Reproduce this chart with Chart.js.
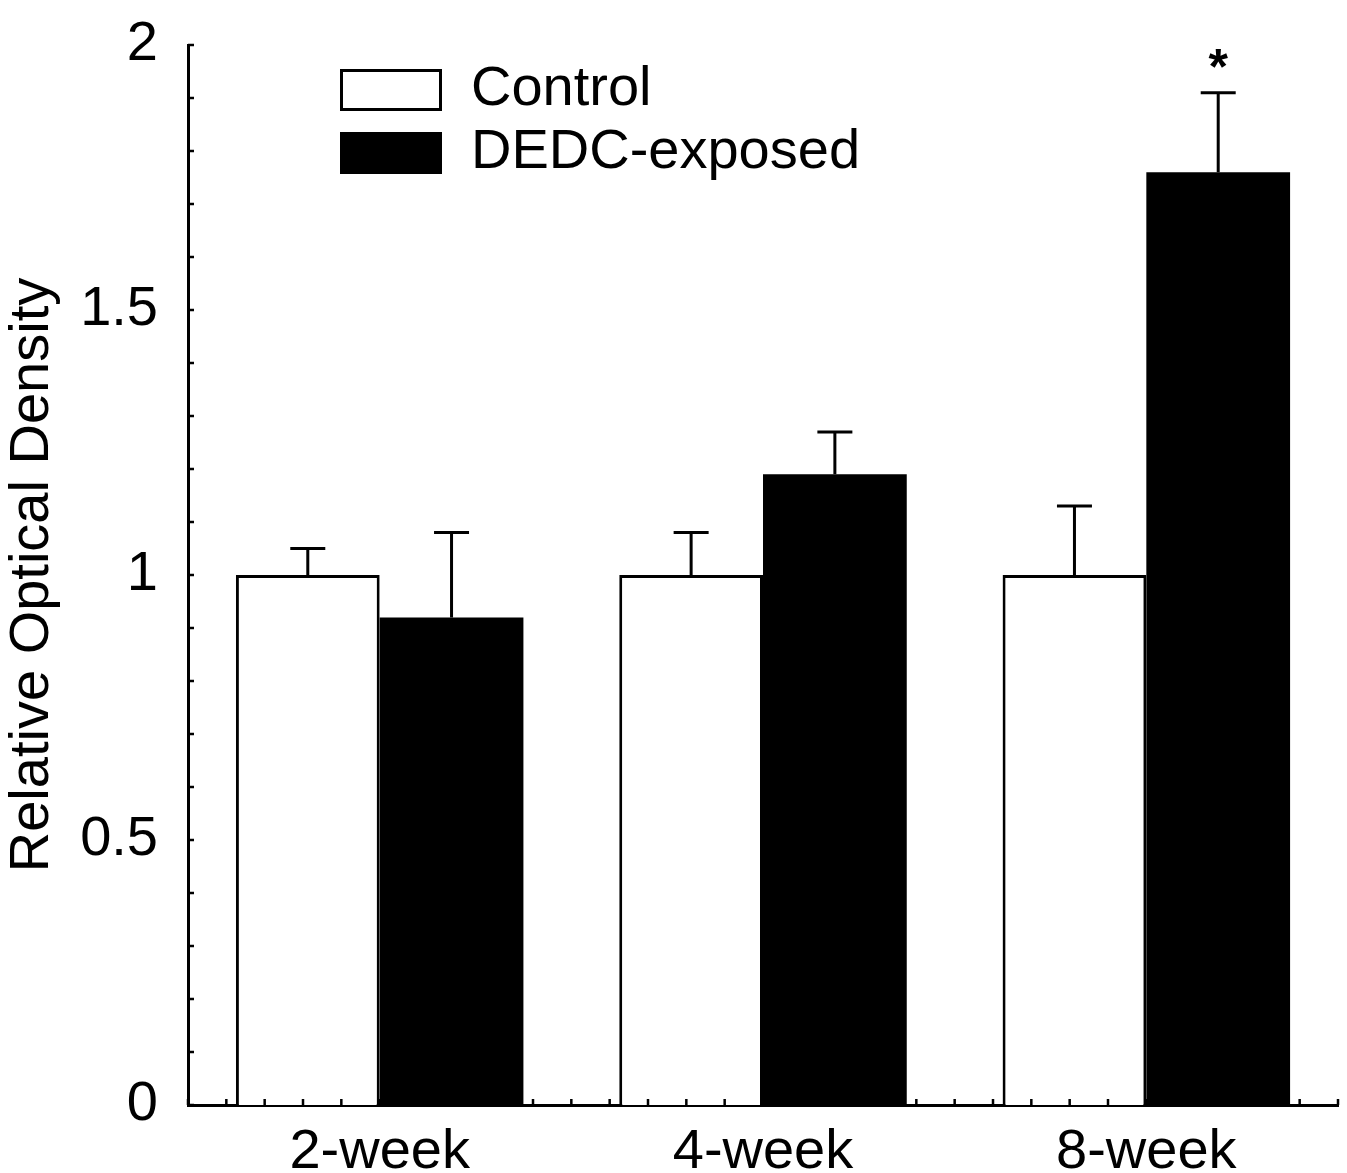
<!DOCTYPE html>
<html>
<head>
<meta charset="utf-8">
<script src="https://cdn.jsdelivr.net/npm/chart.js@4.4.1/dist/chart.umd.min.js"></script>
<style>
  html, body { margin: 0; padding: 0; background: #fff; }
  #wrap { width: 1347px; height: 1173px; position: relative; }
</style>
</head>
<body>
<div id="wrap"><canvas id="chart"></canvas></div>
<script>
const categories = ['2-week', '4-week', '8-week'];
const controlValues = [1.0, 1.0, 1.0];
const controlErrors = [0.05, 0.08, 0.13];
const dedcValues = [0.92, 1.19, 1.76];
const dedcErrors = [0.16, 0.08, 0.15];
const dedcMarks = ['', '', '*'];
const yTickLabels = [0, 0.5, 1, 1.5, 2];

const FONT = '"Liberation Sans", Arial, Helvetica, sans-serif';

// small inward ticks every 0.1 on y and every tenth of a group on x
const minorTicks = {
  id: 'minorTicks',
  afterDraw(chart) {
    const { ctx, scales: { x, y } } = chart;
    ctx.save();
    ctx.strokeStyle = '#000';
    ctx.lineWidth = 2.5;
    ctx.beginPath();
    for (let k = 0; k <= 20; k++) {
      const py = y.getPixelForValue(k / 10);
      ctx.moveTo(x.left, py);
      ctx.lineTo(x.left + 6, py);
    }
    for (let k = 0; k <= 30; k++) {
      const px = x.getPixelForValue(-0.5 + k / 10);
      ctx.moveTo(px, y.bottom);
      ctx.lineTo(px, y.bottom - 6);
    }
    ctx.stroke();
    ctx.restore();
  }
};

// one-sided error bars (+ significance mark)
const errorBars = {
  id: 'errorBars',
  afterDatasetsDraw(chart) {
    const ctx = chart.ctx;
    const y = chart.scales.y;
    ctx.save();
    ctx.strokeStyle = '#000';
    ctx.lineWidth = 3;
    chart.data.datasets.forEach((ds, di) => {
      const meta = chart.getDatasetMeta(di);
      meta.data.forEach((bar, i) => {
        const top = y.getPixelForValue(ds.data[i] + ds.errors[i]);
        ctx.beginPath();
        ctx.moveTo(bar.x, bar.y);
        ctx.lineTo(bar.x, top);
        ctx.moveTo(bar.x - 17.5, top);
        ctx.lineTo(bar.x + 17.5, top);
        ctx.stroke();
        if (ds.marks && ds.marks[i]) {
          ctx.fillStyle = '#000';
          ctx.font = 'bold 50px ' + FONT;
          ctx.textAlign = 'center';
          ctx.textBaseline = 'alphabetic';
          ctx.fillText(ds.marks[i], bar.x, top - 9);
        }
      });
    });
    ctx.restore();
  }
};

// legend inside the plot, top left
const boxLegend = {
  id: 'boxLegend',
  afterDraw(chart) {
    const { ctx, chartArea } = chart;
    const x0 = chartArea.left + 152;
    const y0 = chartArea.top + 24;
    ctx.save();
    chart.data.datasets.forEach((ds, i) => {
      const top = y0 + i * 63;
      ctx.fillStyle = ds.backgroundColor;
      ctx.fillRect(x0, top, 102, 42);
      ctx.strokeStyle = '#000';
      ctx.lineWidth = 3;
      ctx.strokeRect(x0 + 1.5, top + 1.5, 99, 39);
      ctx.fillStyle = '#000';
      ctx.font = '56px ' + FONT;
      ctx.textAlign = 'left';
      ctx.textBaseline = 'middle';
      ctx.fillText(ds.label, x0 + 131, top + 21);
    });
    ctx.restore();
  }
};

new Chart(document.getElementById('chart'), {
  type: 'bar',
  data: {
    labels: categories,
    datasets: [
      {
        label: 'Control',
        data: controlValues,
        errors: controlErrors,
        backgroundColor: '#fff',
        borderColor: '#000',
        borderWidth: 3,
        categoryPercentage: 0.75,
        barPercentage: 1
      },
      {
        label: 'DEDC-exposed',
        data: dedcValues,
        errors: dedcErrors,
        marks: dedcMarks,
        backgroundColor: '#000',
        borderColor: '#000',
        borderWidth: 0,
        categoryPercentage: 0.75,
        barPercentage: 1
      }
    ]
  },
  options: {
    responsive: true,
    maintainAspectRatio: false,
    animation: false,
    layout: { padding: { top: 45, right: 9, left: 0, bottom: 0 } },
    plugins: { legend: { display: false }, tooltip: { enabled: false } },
    scales: {
      x: {
        grid: { display: false, drawTicks: false },
        border: { display: true, color: '#000', width: 3 },
        ticks: {
          color: '#000',
          font: { family: FONT, size: 56 },
          padding: 14,
          maxRotation: 0,
          autoSkip: false
        },
        afterFit(s) {
          s.height = 68;
          s.paddingLeft = 0;
          s.paddingRight = 0;
        }
      },
      y: {
        min: 0,
        max: 2,
        afterBuildTicks(s) { s.ticks = yTickLabels.map(v => ({ value: v })); },
        grid: { display: false, drawTicks: false },
        border: { display: true, color: '#000', width: 3 },
        ticks: {
          color: '#000',
          font: { family: FONT, size: 56 },
          padding: 30,
          callback: v => String(v)
        },
        title: {
          display: true,
          text: 'Relative Optical Density',
          color: '#000',
          font: { family: FONT, size: 56, lineHeight: 1.15 },
          padding: 0
        },
        afterFit(s) {
          s.width = 188;
          s.paddingTop = 0;
          s.paddingBottom = 0;
        }
      }
    }
  },
  plugins: [minorTicks, errorBars, boxLegend]
});
</script>
</body>
</html>
